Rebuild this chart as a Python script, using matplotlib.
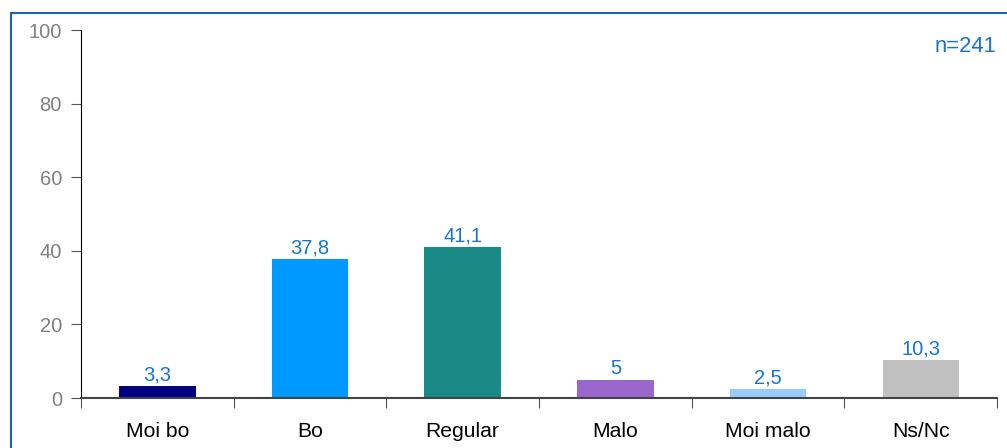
import matplotlib.pyplot as plt
import matplotlib.patches as mpatches
import numpy as np

plt.rcParams['font.family'] = ['Liberation Sans', 'DejaVu Sans']

# Datos
categorias = ['Moi bo', 'Bo', 'Regular', 'Malo', 'Moi malo', 'Ns/Nc']
valores = [3.3, 37.8, 41.1, 5, 2.5, 10.3]
etiquetas = ['3,3', '37,8', '41,1', '5', '2,5', '10,3']
colores = ['#000080', '#0099FF', '#1A8A87', '#9966CC', '#99CCFF', '#C0C0C0']
yticks = [0, 20, 40, 60, 80, 100]
n_texto = 'n=241'

fig = plt.figure(figsize=(10.07, 4.48), dpi=100)
ax = fig.add_axes([81 / 1007, 1 - 398 / 448, (997 - 81) / 1007, (398 - 30) / 448])

# Marco azul
fig.patches.append(mpatches.Rectangle((11 / 1007, -0.1), 1.2, 1 - 13 / 448 + 0.1,
                                      transform=fig.transFigure, fill=False,
                                      edgecolor='#1F5FAF', linewidth=1.5))

x = np.arange(len(categorias))
ax.bar(x, valores, width=0.5, color=colores, zorder=2)
for xi, v, t in zip(x, valores, etiquetas):
    ax.text(xi, v + 0.3, t, ha='center', va='bottom', color='#1874D0', fontsize=14.5)

ax.set_xlim(-0.5, len(categorias) - 0.5)
ax.set_ylim(0, 100)
ax.set_yticks(yticks)
ax.tick_params(axis='y', direction='out', length=7.2, color='#555555',
               labelcolor='#808080', labelsize=14.5, pad=6.5)

# Ticks de categoria en los limites
ax.set_xticks(np.arange(len(categorias) + 1) - 0.5)
ax.set_xticklabels([])
ax.tick_params(axis='x', which='major', direction='out', length=7.2, color='#555555')
ax.set_xticks(x, minor=True)
ax.set_xticklabels(categorias, minor=True, fontsize=15.2)
ax.tick_params(axis='x', which='minor', length=0, pad=17)

for s in ['top', 'right']:
    ax.spines[s].set_visible(False)
ax.spines['left'].set_color('black')
ax.spines['bottom'].set_color('#444444')
ax.spines['bottom'].set_linewidth(1.5)

ax.text(0.9995, 0.985, n_texto, transform=ax.transAxes, ha='right', va='top',
        color='#1874D0', fontsize=15.8)

fig.savefig('out.png', dpi=100)
